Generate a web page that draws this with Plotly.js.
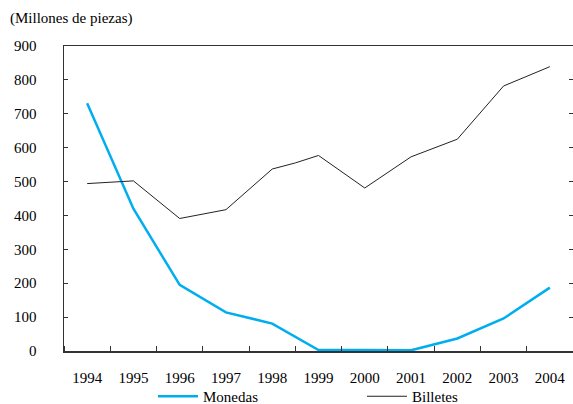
<!DOCTYPE html>
<html>
<head>
<meta charset="utf-8">
<script src="https://cdn.plot.ly/plotly-3.0.1.min.js"></script>
<style>html,body{margin:0;padding:0;background:#fff}#chart{width:573px;height:404px}</style>
</head>
<body>
<div id="chart"></div>
<script>
// Data (millions of pieces)
const yearLabels = ['1994','1995','1996','1997','1998','1999','2000','2001','2002','2003','2004'];
const yearValues = [1994,1995,1996,1997,1998,1999,2000,2001,2002,2003,2004];
const monedasX = [1994,1995,1996,1997,1998,1999,2000,2001,2002,2003,2004];
const monedasY = [731,420,195,114,81,3,3,2,37,96,187];
const billetesX = [1994,1995,1996,1997,1998,1998.5,1999,2000,2001,2002,2003,2004];
const billetesY = [494,502,391,417,537,555,577,481,573,625,782,839];

const font = {family: 'Times New Roman, Liberation Serif, serif', size: 15, color: '#000'};

const traces = [
  {x: monedasX, y: monedasY, name: 'Monedas', type: 'scatter', mode: 'lines',
   line: {color: '#00AEEF', width: 2.5}},
  {x: billetesX, y: billetesY, name: 'Billetes', type: 'scatter', mode: 'lines',
   line: {color: '#222222', width: 1}}
];

const layout = {
  width: 573, height: 404,
  margin: {l: 64, r: 0, t: 46, b: 53},
  paper_bgcolor: '#fff', plot_bgcolor: '#fff',
  font: font,
  showlegend: true,
  title: {text: '(Millones de piezas)', font: font, xref: 'container', yref: 'container',
          x: 10/573, xanchor: 'left', y: 1 - 18/404, yanchor: 'middle'},
  xaxis: {
    range: [1993.5, 2004.5], tickvals: yearValues, ticktext: yearLabels,
    ticks: '', showgrid: false, zeroline: false,
    showline: true, linecolor: '#333', linewidth: 1.5, mirror: true,
    tickfont: font, ticklabelstandoff: 12,
    minor: {tick0: 1994.5, dtick: 1, ticks: 'inside', ticklen: 5, tickcolor: '#333', tickwidth: 1, showgrid: false}
  },
  yaxis: {
    range: [0, 900], dtick: 100, tick0: 0,
    ticks: 'inside', ticklen: 4, tickcolor: '#333', tickwidth: 1,
    showgrid: false, zeroline: false,
    showline: true, linecolor: '#333', linewidth: 1.5, mirror: 'ticks',
    tickfont: font, ticklabelstandoff: 23
  },
  legend: {
    orientation: 'h', xref: 'container', yref: 'container',
    x: 153/573, xanchor: 'left', y: 1 - 380/404, yanchor: 'top',
    entrywidth: 154, entrywidthmode: 'pixels', itemwidth: 40,
    font: font, bgcolor: 'rgba(0,0,0,0)', borderwidth: 0
  }
};

Plotly.newPlot('chart', traces, layout, {displayModeBar: false, staticPlot: true});
</script>
</body>
</html>
